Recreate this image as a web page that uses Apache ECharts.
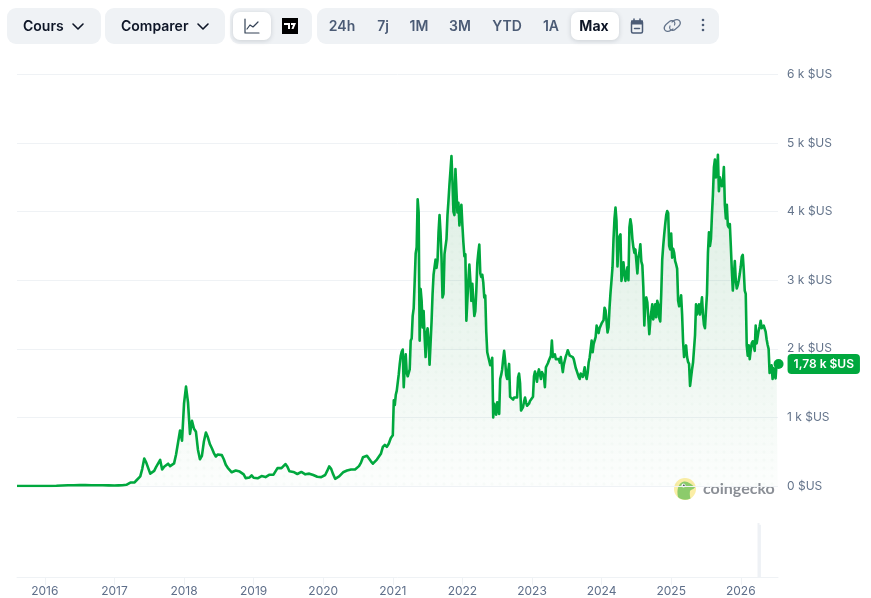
<!DOCTYPE html>
<html>
<head>
<meta charset="utf-8">
<title>Ethereum</title>
<script src="https://cdn.jsdelivr.net/npm/echarts@6/dist/echarts.min.js"></script>
<style>
  html, body { margin: 0; padding: 0; background: #fff; }
  #chart { width: 871px; height: 598px; }
</style>
</head>
<body>
<div id="chart"></div>
<script>
// Price samples in $US, one list per calendar year, evenly spaced inside the year.
const prices2015 = [1, 1, 1, 1];
const prices2016 = [1, 1, 3, 8, 12, 11, 13, 14, 11, 11, 10, 9];
const prices2017 = [8, 9, 9, 10, 10, 12, 18, 40, 50, 52, 50, 80, 95, 140, 250, 400, 340, 260, 180, 170, 220, 280, 300, 380, 240, 280, 300, 325, 290, 295, 330, 460, 470, 810, 660];
const prices2018 = [1200, 1450, 1220, 760, 950, 835, 790, 530, 390, 440, 650, 780, 710, 610, 550, 480, 430, 460, 470, 450, 390, 310, 265, 260, 200, 215, 225, 215, 210, 205, 170, 115, 90, 125, 155];
const prices2019 = [120, 105, 112, 135, 145, 135, 130, 150, 165, 170, 165, 170, 260, 265, 260, 235, 320, 280, 215, 205, 205, 200, 175, 175, 205, 185, 170, 175, 180, 170, 160, 150, 135, 125, 130];
const prices2020 = [145, 160, 220, 285, 250, 170, 105, 120, 140, 170, 200, 215, 225, 235, 240, 240, 240, 245, 290, 340, 420, 395, 440, 420, 360, 325, 350, 385, 400, 470, 570, 600, 570, 620, 700];
const prices2021 = [740, 1250, 1180, 1330, 1390, 1380, 1630, 1780, 1900, 1960, 1990, 1440, 1750, 1920, 1650, 1600, 1620, 1700, 2120, 2150, 2480, 2590, 2980, 3390, 3480, 4180, 3990, 2120, 2870, 2700, 2310, 2550, 2180, 1880, 2220, 2300, 2100, 1770, 1750, 2400, 2800, 3080, 3100, 3300, 3180, 3290, 3700, 3950, 3700, 3330, 2750, 2800, 3380, 3490, 3600, 3950, 4160, 4400, 4600, 4810, 4450, 4000, 3950, 4620, 4300, 3990, 4130, 3800, 4000, 4100];
const prices2022 = [3800, 3550, 3350, 3380, 2410, 2420, 3000, 3230, 3000, 2700, 2950, 2700, 2480, 2550, 2850, 3250, 3400, 3520, 3100, 3050, 3080, 2970, 2750, 2780, 2250, 1950, 1950, 1970, 1760, 1800, 1870, 1000, 1200, 1120, 1040, 1220, 1150, 1050, 1560, 1620, 1700, 1850, 1970, 1830, 1620, 1560, 1580, 1780, 1300, 1280, 1290, 1260, 1290, 1270, 1300, 1290, 1580, 1640, 1500, 1100, 1120, 1150, 1230, 1290, 1220, 1170, 1190, 1200, 1240];
const prices2023 = [1250, 1300, 1600, 1670, 1660, 1520, 1640, 1700, 1680, 1560, 1660, 1680, 1600, 1440, 1730, 1760, 1790, 1830, 1850, 1900, 2120, 1880, 1900, 1920, 1850, 1830, 1870, 1850, 1800, 1880, 1900, 1660, 1770, 1830, 1890, 1930, 1980, 2000, 1900, 1880, 1890, 1880, 1850, 1830, 1720, 1680, 1690, 1590, 1560, 1640, 1620, 1590, 1650, 1730, 1610, 1560, 1650, 1800, 1870, 1990, 2120, 1950, 2070, 2120, 2170, 2340, 2290, 2230, 2300];
const prices2024 = [2370, 2350, 2420, 2600, 2560, 2400, 2240, 2310, 2600, 2820, 3000, 3190, 3600, 3900, 4060, 3870, 3200, 3550, 3640, 3670, 2990, 3100, 3260, 3100, 2990, 3100, 3190, 3000, 3770, 3890, 3800, 3600, 3480, 3400, 3450, 3450, 3100, 3330, 3400, 3525, 3270, 3220, 2900, 2340, 2700, 2750, 2680, 2450, 2215, 2400, 2540, 2650, 2430, 2520, 2650, 2460, 2700, 2650, 2450, 2400, 2800, 3300, 3500, 3670, 3820, 3950, 4010, 3980, 3500, 3450];
const prices2025 = [3680, 3330, 3460, 3400, 3280, 3230, 3170, 2700, 2620, 2700, 2780, 2500, 2100, 1880, 1990, 2050, 1880, 1810, 1780, 1460, 1580, 1700, 1800, 1820, 2200, 2650, 2500, 2570, 2650, 2500, 2620, 2750, 2500, 2350, 2300, 2555, 2800, 3400, 3700, 3500, 3600, 3950, 4250, 4650, 4760, 4500, 4550, 4830, 4300, 4500, 4500, 4370, 4420, 4650, 4100, 3900, 4100, 3800, 3770, 3820, 3500, 3150, 2850, 3050, 3280, 3000, 2880, 2930, 3000, 3090];
const prices2026 = [3200, 3340, 3370, 3150, 2850, 2800, 2050, 1900, 2050, 1850, 1980, 2080, 2110, 2050, 1970, 2340, 2080, 2100, 2265, 2330, 2410, 2300, 2280, 2340, 2360, 2250, 2140, 2060, 2000, 1650, 1650, 1760, 1560, 1720, 1620, 1570, 1780, 1780];

// Daily traded volume, arbitrary axis units; only the latest burst stands out.
const volumeDates = [2026.255, 2026.275];
const volumeValues = [62, 60];

// Axis labels.
const yearTicks = [2016, 2017, 2018, 2019, 2020, 2021, 2022, 2023, 2024, 2025, 2026];
const X_MIN = 2015.6;
const X_MAX = 2026.535;

// Toolbar captions.
const rangeLabels = [['24h', 342], ['7j', 383], ['1M', 419], ['3M', 460], ['YTD', 507], ['1A', 551]];

const GREEN = '#00a83e';
const SANS = 'Inter, "Noto Sans", sans-serif';

// Assemble [year, price] pairs.
const yearly = [
  [2015.6, 0.1, prices2015],
  [2016, 1 / 12, prices2016],
  [2017, 1 / 35, prices2017],
  [2018, 1 / 35, prices2018],
  [2019, 1 / 35, prices2019],
  [2020, 1 / 35, prices2020],
  [2021, 1 / 70, prices2021],
  [2022, 1 / 70, prices2022],
  [2023, 1 / 70, prices2023],
  [2024, 1 / 70, prices2024],
  [2025, 1 / 70, prices2025],
  [2026, 1 / 70, prices2026]
];
const priceSeries = [];
yearly.forEach(function (entry) {
  entry[2].forEach(function (p, i) {
    priceSeries.push([Math.min(entry[0] + i * entry[1], X_MAX), p]);
  });
});
const lastPoint = priceSeries[priceSeries.length - 1];

// Faint dot texture laid over the area fill.
function dotPattern() {
  const c = document.createElement('canvas');
  c.width = 8;
  c.height = 8;
  const g = c.getContext('2d');
  g.fillStyle = 'rgba(0,120,50,0.03)';
  g.beginPath();
  g.arc(4, 4, 1.7, 0, Math.PI * 2);
  g.fill();
  return c;
}

// Toolbar helpers.
let iconCount = 0;
function iconShape(pathData) {
  const name = 'icon' + (iconCount++);
  echarts.graphic.registerShape(name, echarts.graphic.extendPath(pathData, {}));
  return name;
}
function pill(x, y, w, h, r, fill, shadow) {
  const style = { fill: fill };
  if (shadow) {
    style.shadowBlur = 5;
    style.shadowOffsetY = 1;
    style.shadowColor = 'rgba(15,23,42,0.16)';
  }
  return { type: 'rect', shape: { x: x, y: y, width: w, height: h, r: r }, style: style };
}
function caption(text, x, y, color, weight, align) {
  return {
    type: 'text',
    x: x,
    y: y,
    style: {
      text: text,
      fill: color,
      font: weight + ' 14px ' + SANS,
      textAlign: align || 'center',
      textVerticalAlign: 'middle'
    }
  };
}
function stroke(pathData, color, width) {
  return {
    type: iconShape(pathData),
    style: { fill: null, stroke: color, lineWidth: width, lineCap: 'round', lineJoin: 'round' }
  };
}
function solid(pathData, color) {
  return { type: iconShape(pathData), style: { fill: color } };
}

const DARK = '#0d1526';
const GREY = '#4b5b75';

const toolbar = [
  pill(7, 8, 94, 36, 9, '#eff2f5'),
  pill(105, 8, 120, 36, 9, '#eff2f5'),
  pill(230, 8, 82, 36, 9, '#eff2f5'),
  pill(317, 8, 402, 36, 9, '#eff2f5'),
  pill(233, 12, 38, 28, 7, '#ffffff', true),
  pill(571, 12, 48, 28, 7, '#ffffff', true),
  caption('Cours', 23, 27, DARK, 600, 'left'),
  caption('Comparer', 121, 27, DARK, 600, 'left'),
  stroke('M73 24 L78 29 L83 24', DARK, 1.6),
  stroke('M198 24 L203 29 L208 24', DARK, 1.6),
  // Line-chart icon
  stroke('M245 19 L245 33 L259 33', '#334155', 1.2),
  stroke('M247 29 L250 25 L253 27 L258 22', '#334155', 1.2),
  // Candle-chart icon
  { type: 'rect', shape: { x: 282, y: 18, width: 16, height: 16 }, style: { fill: '#000000' } },
  solid('M284 23 H290 V29 H288 V25 H284 Z M291 23 H296 L293.5 29 H291.5 L293 25 H291 Z', '#ffffff'),
  caption('Max', 594, 27, DARK, 700)
];
rangeLabels.forEach(function (r) {
  toolbar.push(caption(r[0], r[1], 27, GREY, 600));
});
toolbar.push(
  // Calendar icon
  { type: 'rect', shape: { x: 631.5, y: 21, width: 11, height: 12, r: 1.5 }, style: { fill: null, stroke: GREY, lineWidth: 1.5 } },
  { type: 'rect', shape: { x: 631, y: 20.5, width: 12, height: 4 }, style: { fill: GREY } },
  stroke('M634 19 V20.5 M640 19 V20.5', GREY, 1.5),
  stroke('M634.5 28.5 H639.5', GREY, 1.5),
  // Link icon
  stroke('M672 22 L674 20.5 C676 19 679 19.5 680 21.5 C681 23.5 680 25 678.5 26.5 L675 29.5 C673.5 31 671 30.5 670 29 C669.5 28 669.5 27 670 26', '#64748b', 1.2),
  stroke('M673 29 L670.5 30.5 C668.5 32 665.5 31.5 664.5 29.5 C663.5 27.5 664.5 26 666 24.5 L669.5 21.5 C671 20 673.5 20.5 674.5 22 C675 23 675 24 674.5 25', '#64748b', 1.2),
  // Overflow menu
  { type: 'circle', shape: { cx: 703, cy: 20, r: 1.3 }, style: { fill: GREY } },
  { type: 'circle', shape: { cx: 703, cy: 25, r: 1.3 }, style: { fill: GREY } },
  { type: 'circle', shape: { cx: 703, cy: 30, r: 1.3 }, style: { fill: GREY } }
);

// Brand mark in the chart corner.
const brand = [
  { type: 'circle', shape: { cx: 685, cy: 489, r: 11 }, style: { fill: '#fbeea6' } },
  solid('M678 497 C676.5 490 678 483 684 481.5 C688 481 691 484 694 486.5 L695 487.5 C693 489.5 691 489.5 690 491 C689.5 494 690 496.5 690.5 498.5 C686 500.5 681 500 678 497 Z', '#8ccb6b'),
  { type: 'circle', shape: { cx: 683.5, cy: 485.5, r: 2 }, style: { fill: '#ffffff' } },
  { type: 'circle', shape: { cx: 683.8, cy: 485.5, r: 1 }, style: { fill: '#4a5560' } },
  {
    type: 'text',
    x: 703,
    y: 489,
    style: {
      text: 'coingecko',
      fill: '#8b8f96',
      font: '700 16px Lato, ' + SANS,
      textAlign: 'left',
      textVerticalAlign: 'middle'
    }
  }
];

const option = {
  animation: false,
  grid: [
    { left: 17, right: 93, top: 74.5, height: 411.5 },
    { left: 17, right: 93, top: 490, height: 87 }
  ],
  xAxis: [
    {
      type: 'value', gridIndex: 0, min: X_MIN, max: X_MAX,
      axisLine: { show: false }, axisTick: { show: false },
      axisLabel: { show: false }, splitLine: { show: false }
    },
    {
      type: 'value', gridIndex: 1, min: X_MIN, max: X_MAX,
      axisLine: { show: true, onZero: false, lineStyle: { color: '#eff2f5', width: 1 } },
      axisTick: { show: true, length: 8, customValues: yearTicks, lineStyle: { color: '#eff2f5', width: 1 } },
      axisLabel: {
        show: true, customValues: yearTicks, margin: 8,
        color: '#5f6f8a', fontFamily: SANS, fontSize: 12,
        formatter: function (v) { return String(v); }
      },
      splitLine: { show: false }
    }
  ],
  yAxis: [
    {
      type: 'value', gridIndex: 0, position: 'right', min: 0, max: 6000, interval: 1000,
      axisLine: { show: false }, axisTick: { show: false },
      axisLabel: {
        margin: 9, color: '#64748b', fontFamily: SANS, fontSize: 12,
        formatter: function (v) { return v === 0 ? '0 $US' : (v / 1000) + ' k $US'; }
      },
      splitLine: { show: true, lineStyle: { color: '#eff2f5', width: 1 } }
    },
    {
      type: 'value', gridIndex: 1, min: 0, max: 100,
      axisLine: { show: false }, axisTick: { show: false },
      axisLabel: { show: false }, splitLine: { show: false }
    }
  ],
  series: [
    {
      type: 'line', name: 'Cours', xAxisIndex: 0, yAxisIndex: 0, z: 3,
      data: priceSeries, showSymbol: false, smooth: false, sampling: null,
      lineStyle: { color: GREEN, width: 2.6, join: 'round' },
      areaStyle: {
        color: {
          type: 'linear', x: 0, y: 0, x2: 0, y2: 1,
          colorStops: [
            { offset: 0, color: 'rgba(10,135,55,0.2)' },
            { offset: 0.6, color: 'rgba(10,135,55,0.1)' },
            { offset: 1, color: 'rgba(10,135,55,0.015)' }
          ]
        }
      }
    },
    {
      type: 'line', name: 'Texture', xAxisIndex: 0, yAxisIndex: 0, z: 2,
      data: priceSeries, showSymbol: false, silent: true,
      lineStyle: { width: 0 },
      areaStyle: { color: { image: dotPattern(), repeat: 'repeat' } }
    },
    {
      type: 'scatter', name: 'Dernier', xAxisIndex: 0, yAxisIndex: 0, z: 6, clip: false,
      data: [lastPoint], symbolSize: 10, symbolOffset: [1, 0],
      itemStyle: { color: GREEN, opacity: 1 },
      label: {
        show: true, position: 'right', distance: 4,
        backgroundColor: GREEN, borderRadius: 4, padding: [3, 6],
        color: '#ffffff', fontFamily: SANS, fontSize: 12, fontWeight: 600, lineHeight: 14,
        formatter: function (p) {
          return (p.value[1] / 1000).toFixed(2).replace('.', ',') + ' k $US';
        }
      }
    },
    {
      type: 'bar', name: 'Volume', xAxisIndex: 1, yAxisIndex: 1, barWidth: 2,
      data: volumeDates.map(function (d, i) { return [d, volumeValues[i]]; }),
      itemStyle: { color: '#eef1f5' }
    }
  ],
  graphic: { elements: toolbar.concat(brand) }
};

const chart = echarts.init(document.getElementById('chart'), null, { renderer: 'canvas' });
chart.setOption(option);
</script>
</body>
</html>
